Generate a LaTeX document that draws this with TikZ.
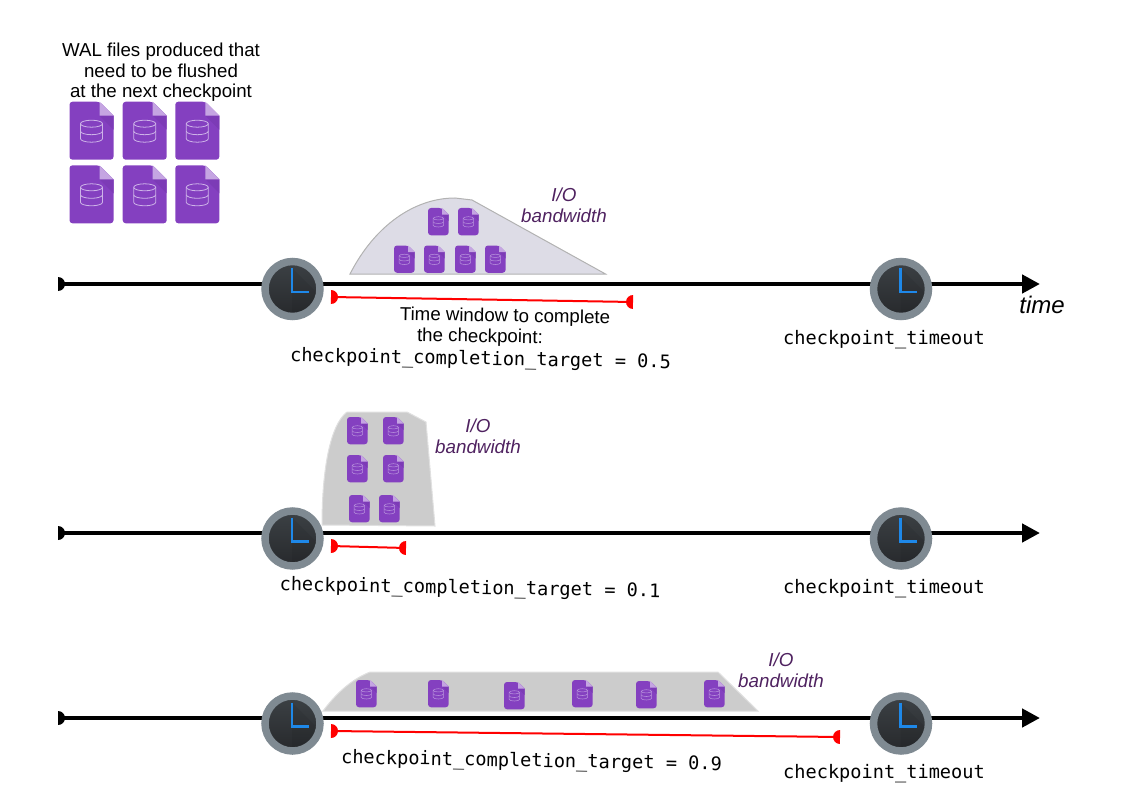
\documentclass[tikz,border=0pt]{standalone}
\usepackage{fontspec}
\setmainfont{Liberation Sans}
\setmonofont{DejaVu Sans Mono}
\usetikzlibrary{arrows.meta}
\definecolor{filepurple}{HTML}{8440C0}
\definecolor{filefold}{HTML}{C5A5E2}
\definecolor{fileshade}{HTML}{7C3BB6}
\definecolor{filedb}{HTML}{CDB3E8}
\definecolor{iolabel}{HTML}{4F2260}
\definecolor{clockblue}{HTML}{1E88E8}
\definecolor{clockring}{HTML}{7F8A92}
\definecolor{clocktop}{HTML}{3C4145}
\definecolor{clockbottom}{HTML}{27292C}
\definecolor{hillblue}{HTML}{DDDCE6}
\pgfdeclarearrow{
    name=HalfDisc,
    setup code={
        \pgfarrowssettipend{0pt}
        \pgfarrowssetlineend{-5pt}
        \pgfarrowssetvisualbackend{-7pt}
        \pgfarrowssetbackend{-7pt}
        \pgfarrowshullpoint{0pt}{7pt}
        \pgfarrowshullpoint{0pt}{-7pt}
    },
    drawing code={
        \pgfpathmoveto{\pgfqpoint{0pt}{7pt}}
        \pgfpatharc{90}{270}{7pt}
        \pgfpathclose
        \pgfusepathqfill
    }
}
\tikzset{
    x=1pt,y=-1pt,
    timeline/.style={line width=4.5pt,black,{HalfDisc}-{Triangle[length=18pt,width=18pt]}},
    window/.style={line width=2pt,red,{HalfDisc}-{HalfDisc}},
    clock/.style={circle,minimum size=55pt,inner sep=0pt,line width=7.5pt,draw=clockring,
        top color=clocktop,bottom color=clockbottom,
        path picture={
            \fill[black,opacity=.06] (path picture bounding box.center)++(-.5,-21)--++(45,45)--++(-30,30)--++(-15,-15)--cycle;
            \draw[clockblue,line width=2.4pt] (path picture bounding box.center)++(-.5,-21)--++(0,24)--++(16.5,0);
        }},
    lbl/.style={inner sep=0pt,font=\fontsize{18.7}{20.6}\selectfont,align=center},
    iolbl/.style={lbl,text=iolabel,font=\fontsize{18.8}{20.6}\selectfont\itshape},
    code/.style={inner sep=0pt,font=\ttfamily\fontsize{18.6}{22}\selectfont},
    hill/.style={fill=black!20,draw=black!12,line width=1pt},
    dbline/.style={draw=filedb,line width=.8pt},
    walfile/.pic={
        \fill[filepurple,rounded corners=3] (0,0)--(30,0)[sharp corners]--(44,14)[rounded corners=3]--(44,58)--(0,58)--cycle;
        \fill[fileshade] (30,14)--(44,14)--(44,28)--cycle;
        \fill[filefold] (30,0)--(44,14)--(30,14)--cycle;
        \draw[dbline] (11,22) arc[x radius=11,y radius=3.5,start angle=180,end angle=-180];
        \draw[dbline] (11,22)--(11,37) arc[x radius=11,y radius=3.5,start angle=180,end angle=0]--(33,22);
        \draw[dbline] (11,29.5) arc[x radius=11,y radius=3.5,start angle=180,end angle=0];
    },
    smallfile/.style={scale=.47,dbline/.style={draw=filedb!75!filepurple,line width=.5pt}},
}
\begin{document}
\begin{tikzpicture}
    \useasboundingbox (0,0) rectangle (1123,794);

    % first row
    \node[lbl] (walnote) at (161,72.5) {WAL files produced that\\need to be flushed\\at the next checkpoint};
    \pic at (69.5,101.7) {walfile};
    \pic at (122.7,101.7) {walfile};
    \pic at (175.3,101.7) {walfile};
    \pic at (69.5,165.3) {walfile};
    \pic at (122.7,165.3) {walfile};
    \pic at (175.3,165.3) {walfile};

    \draw[hill,fill=hillblue,draw=black!30] (350,274) .. controls (375,225) and (415,198) .. (455,198) -- (472,200) -- (605.5,274) -- cycle;
    \pic[smallfile] at (428,208) {walfile};
    \pic[smallfile] at (458,208) {walfile};
    \pic[smallfile] at (394,245.5) {walfile};
    \pic[smallfile] at (424,245.5) {walfile};
    \pic[smallfile] at (455,245.5) {walfile};
    \pic[smallfile] at (485,245.5) {walfile};
    \node[iolbl] (ioa) at (564,205) {I/O\\bandwidth};

    \coordinate (starta) at (58,284);
    \coordinate (enda) at (1040,284);
    \draw[timeline] (starta) -- (enda);
    \node[clock] (clocka) at (292.5,289) {};
    \node[clock] (timeouta) at (901,289) {};
    \node[inner sep=0pt,font=\fontsize{24}{28}\selectfont\itshape] (timelbl) at (1042,305) {time};
    \coordinate (wina) at (331,297);
    \coordinate (winb) at (633,302);
    \draw[window] (wina) -- (winb);
    \node[lbl,rotate=-1] (winlbl) at (505,317) {Time window to complete};
    \node[lbl,rotate=-1] (winlblb) at (480,337.5) {the checkpoint:};
    \node[code,rotate=-1] (targeta) at (480.5,360) {checkpoint\_completion\_target = 0.5};
    \node[code] (namea) at (884,339.5) {checkpoint\_timeout};

    % second row
    \draw[hill] (322,525) .. controls (322,470) and (330,425) .. (347,412) -- (407,412) -- (426,422) -- (435,526) -- cycle;
    \pic[smallfile] at (347,417) {walfile};
    \pic[smallfile] at (383,417) {walfile};
    \pic[smallfile] at (347,455) {walfile};
    \pic[smallfile] at (383,455) {walfile};
    \pic[smallfile] at (349,495) {walfile};
    \pic[smallfile] at (379,495) {walfile};
    \node[iolbl] (iob) at (478,436) {I/O\\bandwidth};

    \coordinate (startb) at (58,533);
    \coordinate (endb) at (1040,533);
    \draw[timeline] (startb) -- (endb);
    \node[clock] (clockb) at (292.5,538.5) {};
    \node[clock] (timeoutb) at (901,538.5) {};
    \coordinate (winc) at (331,546);
    \coordinate (wind) at (406,548);
    \draw[window] (winc) -- (wind);
    \node[code,rotate=-1] (targetb) at (470,589) {checkpoint\_completion\_target = 0.1};
    \node[code] (nameb) at (884,588.5) {checkpoint\_timeout};

    % third row
    \draw[hill] (323,711) .. controls (335,695) and (350,680) .. (370,672) -- (718,672) -- (758,711) -- cycle;
    \pic[smallfile] at (356,680) {walfile};
    \pic[smallfile] at (428,680) {walfile};
    \pic[smallfile] at (504,682) {walfile};
    \pic[smallfile] at (572,680) {walfile};
    \pic[smallfile] at (636,681) {walfile};
    \pic[smallfile] at (704,680) {walfile};
    \node[iolbl] (ioc) at (781,670.5) {I/O\\bandwidth};

    \coordinate (startc) at (58,718);
    \coordinate (endc) at (1040,718);
    \draw[timeline] (startc) -- (endc);
    \node[clock] (clockc) at (292.5,723.5) {};
    \node[clock] (timeoutc) at (901,723.5) {};
    \coordinate (wine) at (331,731);
    \coordinate (winf) at (840,737);
    \draw[window] (wine) -- (winf);
    \node[code,rotate=-1] (targetc) at (531.5,762) {checkpoint\_completion\_target = 0.9};
    \node[code] (namec) at (884,773.5) {checkpoint\_timeout};
\end{tikzpicture}
\end{document}
